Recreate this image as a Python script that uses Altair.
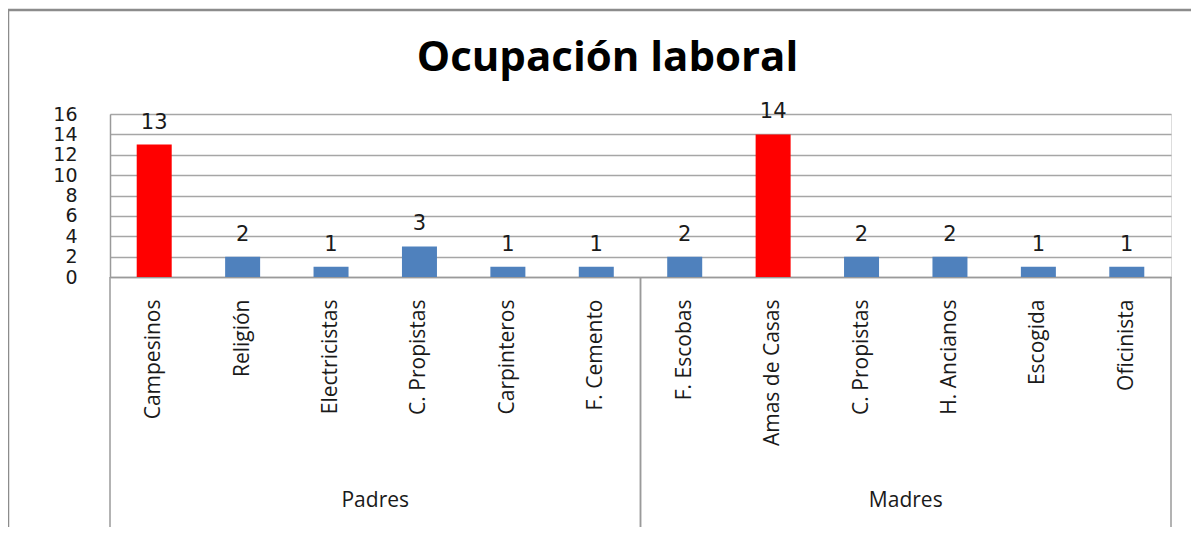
import altair as alt
import pandas as pd

groups = ["Padres"] * 6 + ["Madres"] * 6
categories = ["Campesinos", "Religión", "Electricistas", "C. Propistas", "Carpinteros", "F. Cemento",
              "F. Escobas", "Amas de Casas", "C. Propistas", "H. Ancianos", "Escogida", "Oficinista"]
values = [13, 2, 1, 3, 1, 1, 2, 14, 2, 2, 1, 1]
y_ticks = [0, 2, 4, 6, 8, 10, 12, 14, 16]
group_names = ["Padres", "Madres"]
title_text = "Ocupación laboral"

keys = [f"{g}|{c}" for g, c in zip(groups, categories)]
df = pd.DataFrame({"key": keys, "group": groups, "cat": categories, "value": values})
gdf = pd.DataFrame({"group": group_names})
tdf = pd.DataFrame({"title": [title_text]})

W, H = 1061, 163
GRAY = "#9a9a9a"

xband = alt.Scale(paddingInner=0, paddingOuter=0)

x_axis = alt.Axis(title=None, labelExpr="split(datum.label, '|')[1]", labelAngle=270,
                  labelAlign="right", labelBaseline="middle", labelFont="Open Sans",
                  labelFontSize=21, labelPadding=22, labelColor="#1a1a1a", ticks=False,
                  domainColor=GRAY, domainWidth=1.5, grid=False, labelOverlap=False)
y_axis = alt.Axis(values=y_ticks, title=None, ticks=False, domainColor=GRAY, domainWidth=1.5,
                  gridColor="#a6a6a6", gridWidth=1.5, labelFont="DejaVu Sans", labelFontSize=19,
                  labelPadding=33, labelOverlap=False, labelColor="#1a1a1a", labelFlush=False,
                  tickCount=9)

x_enc = alt.X("key:N", sort=keys, scale=xband, axis=x_axis)
y_enc = alt.Y("value:Q", scale=alt.Scale(domain=[0, 16], nice=False), axis=y_axis)

bars = alt.Chart(df).mark_bar(size=35).encode(
    x=x_enc,
    y=y_enc,
    color=alt.condition(alt.datum.value >= 10, alt.value("#FF0000"), alt.value("#4F81BD")),
)

labels = alt.Chart(df).mark_text(font="DejaVu Sans", fontSize=21, baseline="alphabetic",
                                 dy=-16, color="#1a1a1a").encode(
    x=alt.X("key:N", sort=keys, scale=xband, axis=None),
    y=y_enc,
    text=alt.Text("value:Q"),
)

gx = alt.X("group:N", sort=group_names, scale=xband, axis=None)

group_text = alt.Chart(gdf).mark_text(font="Open Sans", fontSize=21, baseline="middle",
                                      color="#1a1a1a").encode(
    x=gx, y=alt.value(H + 224), text="group:N")

sep_left = alt.Chart(gdf).mark_rule(color=GRAY, strokeWidth=1.5).encode(
    x=alt.X("group:N", sort=group_names, scale=xband, axis=None, bandPosition=0),
    y=alt.value(H), y2=alt.value(H + 253))
sep_right = alt.Chart(gdf).mark_rule(color=GRAY, strokeWidth=1.5).encode(
    x=alt.X("group:N", sort=group_names, scale=xband, axis=None, bandPosition=1),
    y=alt.value(H), y2=alt.value(H + 253))

frame = alt.Chart(tdf).mark_rect(fill=None, stroke="#8c8c8c", strokeWidth=2.5).encode(
    x=alt.value(-102), x2=alt.value(W + 300), y=alt.value(-104), y2=alt.value(H + 400))

title = alt.Chart(tdf).mark_text(font="Open Sans", fontSize=42, fontWeight="bold",
                                 baseline="alphabetic", align="center", color="#000000").encode(
    x=alt.value(W / 2 - 33), y=alt.value(-43), text="title:N")

chart = alt.layer(frame, bars, labels, sep_left, sep_right, group_text, title).resolve_scale(
    x="independent"
).properties(
    width=W, height=H,
    autosize=alt.AutoSizeParams(type="none"),
    padding={"left": 102, "top": 106, "right": 20, "bottom": 250},
).configure_view(stroke=None).configure(background="white")

chart.save("out.html", embed_options={"renderer": "svg", "actions": False})
